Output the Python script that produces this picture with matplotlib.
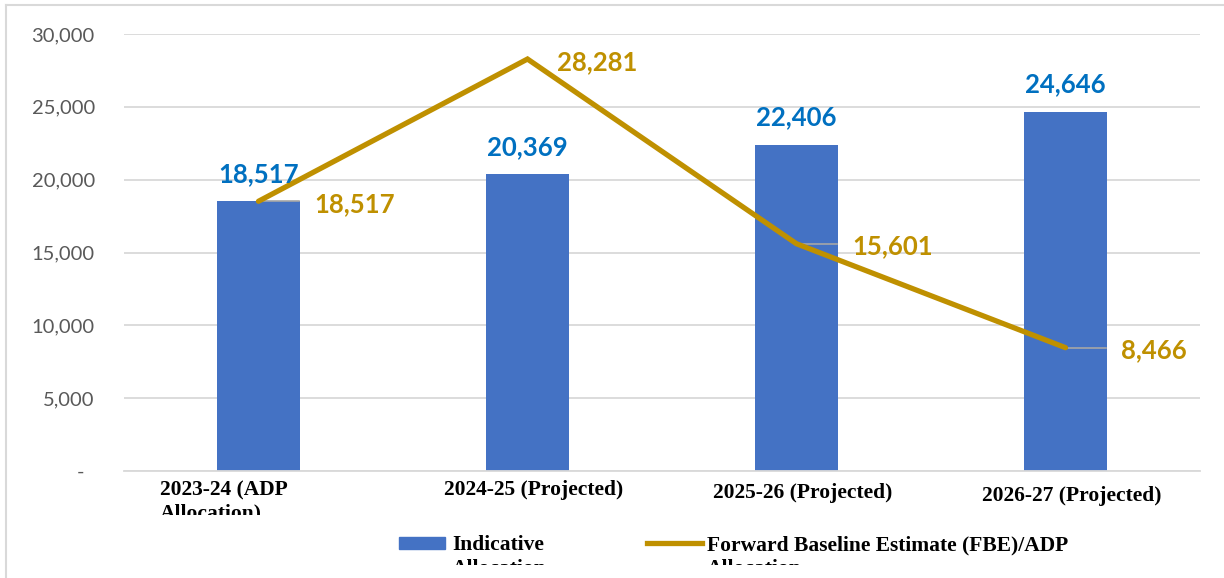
import matplotlib
matplotlib.use("Agg")
import matplotlib.pyplot as plt
from matplotlib.patches import Rectangle
from matplotlib.lines import Line2D
from matplotlib.transforms import Bbox, TransformedBbox

# data
years = ["2023-24 (ADP\nAllocation)", "2024-25 (Projected)", "2025-26 (Projected)", "2026-27 (Projected)"]
indicative = [18517, 20369, 22406, 24646]
fbe = [18517, 28281, 15601, 8466]
yticks = [0, 5000, 10000, 15000, 20000, 25000, 30000]
ytick_labels = ["-  ", "5,000", "10,000", "15,000", "20,000", "25,000", "30,000"]

blue = "#4472C4"
blue_txt = "#0070C0"
gold = "#BF9000"
grid_c = "#D9D9D9"

W, H = 1224, 578
fig = plt.figure(figsize=(W / 100, H / 100), dpi=100)
ax = fig.add_axes([124 / W, 1 - 471 / H, 1076 / W, 437 / H])

x = list(range(len(years)))
ax.bar(x, indicative, width=0.31, color=blue, zorder=2)
ax.plot(x, fbe, color=gold, lw=3.8, zorder=4, solid_capstyle="round", solid_joinstyle="miter")

# leader lines for line labels (not for the peak)
for i, v in enumerate(fbe):
    if i == 1:
        continue
    ax.plot([i, i + 0.15], [v, v], color="#A6A6A6", lw=1.2, zorder=3)

for i, v in enumerate(indicative):
    ax.annotate(f"{v:,}", (i, v), xytext=(0, 14), textcoords="offset points",
                ha="center", va="baseline", color=blue_txt, fontsize=18.5,
                fontweight="bold", family="Lato", zorder=5)

for i, v in enumerate(fbe):
    off = (21, -2) if i == 1 else (40, -2)
    ax.annotate(f"{v:,}", (i, v), xytext=off, textcoords="offset points",
                ha="left", va="center", color=gold, fontsize=18.5,
                fontweight="bold", family="Lato", zorder=5)

ax.set_xlim(-0.5, 3.5)
ax.set_ylim(0, 30000)
ax.set_yticks(yticks)
ax.set_yticklabels(ytick_labels, family="Lato", fontsize=14.5, color="#595959")
ax.tick_params(axis="y", length=0, pad=21)
ax.set_xticks(x)
ax.set_xticklabels([])
ax.tick_params(axis="x", length=0)
ax.grid(axis="y", color=grid_c, lw=1.3, zorder=0)
ax.set_axisbelow(True)
for s in ["top", "right", "left"]:
    ax.spines[s].set_visible(False)
ax.spines["bottom"].set_color(grid_c)
ax.spines["bottom"].set_linewidth(1.3)

# category labels, cut off at the bottom like the source
clip_x = TransformedBbox(Bbox([[0, 1 - 515 / H], [1, 1]]), fig.transFigure)
label_dy = [0, 0, 3, 6]
for i, lab in enumerate(years):
    if i == 0:
        t = fig.text(160 / W, 1 - (480 + label_dy[i]) / H, lab, ha="left", va="top",
                     multialignment="left", family="Liberation Serif", fontweight="bold",
                     fontsize=15.5, linespacing=1.25)
    else:
        xc = ax.transData.transform((i, 0))[0]
        xc = fig.transFigure.inverted().transform((xc, 0))[0]
        t = fig.text(xc + 6 / W, 1 - (480 + label_dy[i]) / H, lab, ha="center", va="top",
                     family="Liberation Serif", fontweight="bold", fontsize=15.5)
    t.set_clip_box(clip_x)
    t.set_clip_on(True)

# legend drawn by hand so the wrapped text can be cut like the source
clip_l = TransformedBbox(Bbox([[0, 1 - 565 / H], [1, 1]]), fig.transFigure)
fig.add_artist(Rectangle((399 / W, 1 - 549 / H), 46 / W, 12 / H, color=blue))
fig.add_artist(Line2D([647 / W, 702 / W], [1 - 543 / H, 1 - 543 / H], color=gold, lw=3.8))
for xp, lab in [(452, "Indicative\nAllocation"), (707, "Forward Baseline Estimate (FBE)/ADP\nAllocation")]:
    t = fig.text(xp / W, 1 - 535 / H, lab, ha="left", va="top", family="Liberation Serif",
                 fontweight="bold", fontsize=15.5, linespacing=1.25)
    t.set_clip_box(clip_l)
    t.set_clip_on(True)

# chart frame
fig.add_artist(Line2D([6 / W, 6 / W], [0, 1 - 5 / H], color=grid_c, lw=1.5))
fig.add_artist(Line2D([6 / W, 1], [1 - 5 / H, 1 - 5 / H], color=grid_c, lw=1.5))

fig.savefig("out.png", dpi=100)
